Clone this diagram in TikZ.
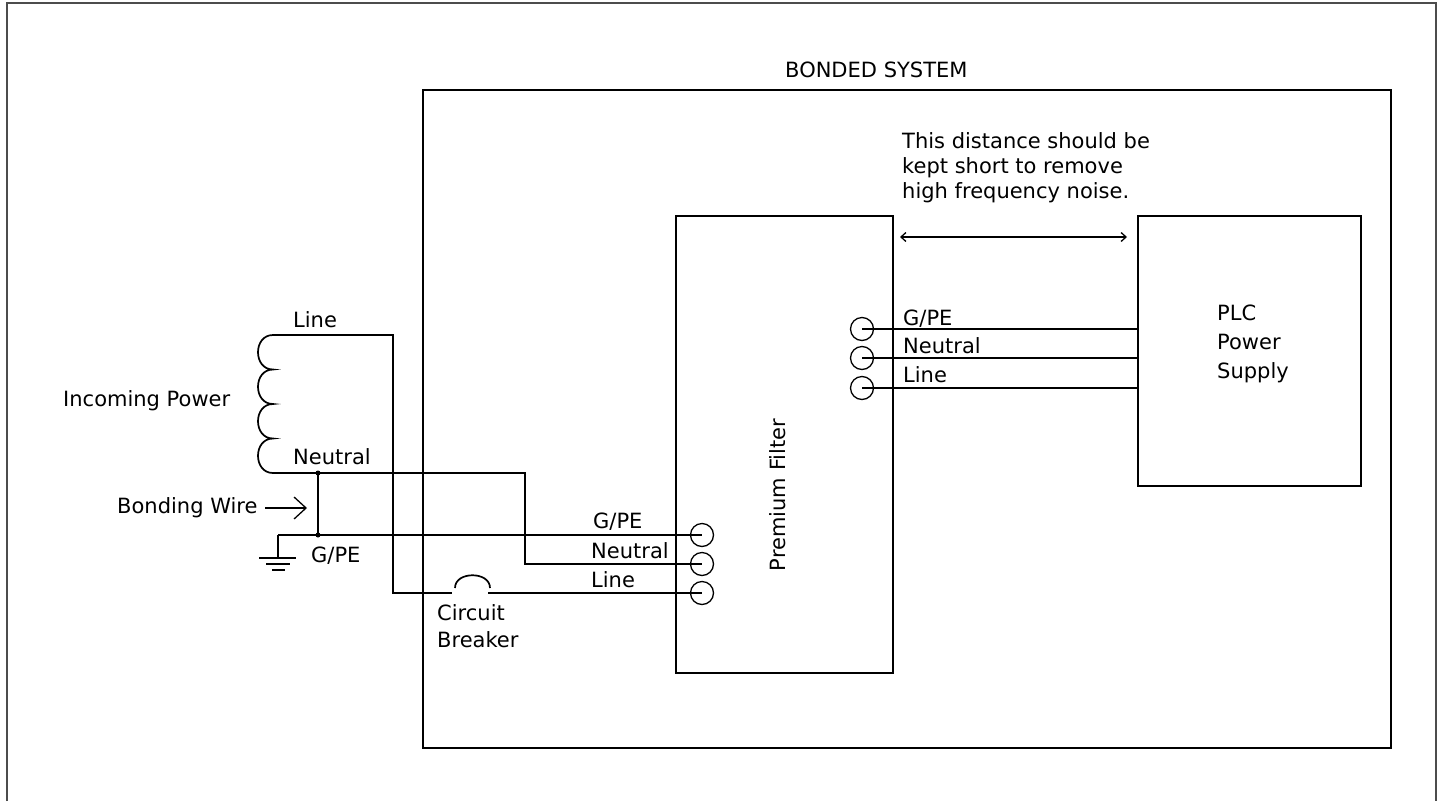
\documentclass[tikz,border=0pt]{standalone}
\usepackage{fontspec}
\setmainfont{DejaVu Sans}
\usetikzlibrary{arrows.meta}
\begin{document}
\begin{tikzpicture}[x=1pt,y=-1pt,
  wire/.style={line width=1.7pt},
  thinw/.style={line width=1.3pt},
  frame/.style={line width=2pt, draw=black!70},
  box/.style={draw, line width=1.7pt, inner sep=0pt, anchor=north west},
  lbl/.style={inner sep=0pt, anchor=base west, font=\fontsize{21pt}{25pt}\selectfont},
  term/.style={circle, draw, line width=1.3pt, minimum size=23pt, inner sep=0pt},
  dotn/.style={circle, fill, minimum size=5pt, inner sep=0pt},
  bigarrow/.style={line width=1.3pt, -{Straight Barb[length=12pt,width=22pt,line width=1.3pt]}},
  smallarrow/.style={line width=1.3pt, {Straight Barb[length=5pt,width=9pt]}-{Straight Barb[length=5pt,width=9pt]}}
]
\useasboundingbox (0,0) rectangle (1439,801);
% outer frame
\draw[frame] (7,801) -- (7,3) -- (1436,3) -- (1436,801);

% boxes
\node[box, minimum width=968pt, minimum height=658pt] (bonded) at (422,89) {};
\node[box, minimum width=217pt, minimum height=457pt] (filter) at (675,215) {};
\node[box, minimum width=223pt, minimum height=270pt] (plc) at (1137,215) {};

% labels
\node[lbl] (tbonded) at (785,77) {BONDED SYSTEM};
\node[lbl] (note1) at (902,148) {This distance should be};
\node[lbl] (note2) at (902,173) {kept short to remove};
\node[lbl] (note3) at (902,198) {high frequency noise.};
\node[lbl, anchor=center, rotate=90] (tfilter) at (778,495) {Premium Filter};
\node[lbl] (tplc1) at (1217,320) {PLC};
\node[lbl] (tplc2) at (1217,349) {Power};
\node[lbl] (tplc3) at (1217,378) {Supply};
\node[lbl] (tinc) at (63,406) {Incoming Power};
\node[lbl] (tline) at (293,327) {Line};
\node[lbl] (tneut) at (293,464) {Neutral};
\node[lbl] (tgnd) at (311,562) {G/PE};
\node[lbl] (tbond) at (117,513) {Bonding Wire};
\node[lbl] (tcb1) at (437,620) {Circuit};
\node[lbl] (tcb2) at (437,647) {Breaker};
\node[lbl] (tfl1) at (593,528) {G/PE};
\node[lbl] (tfl2) at (591,558) {Neutral};
\node[lbl] (tfl3) at (591,587) {Line};
\node[lbl] (tfr1) at (903,325) {G/PE};
\node[lbl] (tfr2) at (903,353) {Neutral};
\node[lbl] (tfr3) at (903,382) {Line};

% terminals
\node[term] (tl1) at (702,535) {};
\node[term] (tl2) at (702,564) {};
\node[term] (tl3) at (702,593) {};
\node[term] (tr1) at (862,329) {};
\node[term] (tr2) at (862,358) {};
\node[term] (tr3) at (862,388) {};

% coordinates
\coordinate (coiltop) at (273,335);
\coordinate (coilbot) at (273,473);
\coordinate (lineBend) at (393,335);
\coordinate (nBend) at (525,473);
\coordinate (gnd) at (278,535);
\coordinate (gndBot) at (278,558);
\coordinate (cbL) at (452,593);
\coordinate (cbR) at (488,593);
\coordinate (bondN) at (318,473);
\coordinate (bondG) at (318,535);
\coordinate (bwTail) at (265,508);
\coordinate (bwHead) at (307,508);
\coordinate (dL) at (900,237);
\coordinate (dR) at (1127,237);

% coil
\draw[wire] (coiltop)
  .. controls (253,335) and (253,369.5) .. (273,369.5)
  .. controls (253,369.5) and (253,404) .. (273,404)
  .. controls (253,404) and (253,438.5) .. (273,438.5)
  .. controls (253,438.5) and (253,473) .. (coilbot);

% Line wire with breaker
\draw[wire] (coiltop) -- (lineBend) |- (cbL);
\draw[wire] (455,588) .. controls (455,571) and (490,571) .. (490,588);
\draw[wire] (cbR) -- (tl3.center);

% Neutral
\draw[wire] (coilbot) -- (nBend) |- (tl2.center);

% G/PE
\draw[wire] (gnd) -- (tl1.center);
\draw[wire] (gnd) -- (gndBot);
\draw[wire] (259,558) -- (296,558);
\draw[wire] (266,564) -- (290,564);
\draw[wire] (272,570) -- (285,570);

% bonding
\draw[wire] (bondN) -- (bondG);
\node[dotn] (dn) at (bondN) {};
\node[dotn] (dg) at (bondG) {};
\draw[bigarrow] (bwTail) -- (bwHead);

% right wires
\draw[wire] (tr1.center) -- (tr1.center -| plc.west);
\draw[wire] (tr2.center) -- (tr2.center -| plc.west);
\draw[wire] (tr3.center) -- (tr3.center -| plc.west);

% distance arrow
\draw[smallarrow] (dL) -- (dR);
\end{tikzpicture}
\end{document}
